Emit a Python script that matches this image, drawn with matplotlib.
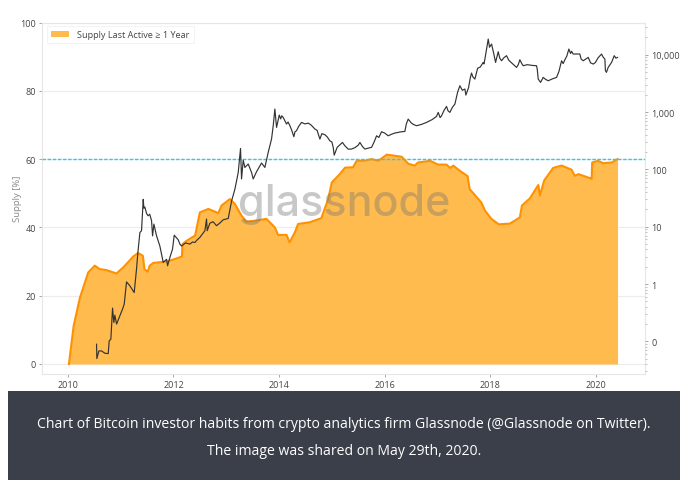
import matplotlib

matplotlib.use("Agg")
import matplotlib.pyplot as plt
from matplotlib.patches import Rectangle
from matplotlib.ticker import FixedLocator, FixedFormatter, NullFormatter

supply_years = [2010.02, 2010.11, 2010.23, 2010.385, 2010.51, 2010.6, 2010.73, 2010.92, 2011.05, 2011.14,
                2011.24, 2011.33, 2011.42, 2011.45, 2011.51, 2011.55, 2011.62, 2011.87, 2012.06, 2012.16,
                2012.17, 2012.25, 2012.41, 2012.5, 2012.66, 2012.85, 2012.91, 2013.07, 2013.16, 2013.29,
                2013.38, 2013.57, 2013.76, 2013.92, 2013.98, 2014.14, 2014.2, 2014.3, 2014.36, 2014.58,
                2014.8, 2014.93, 2015.0, 2015.15, 2015.25, 2015.4, 2015.47, 2015.62, 2015.75, 2015.88,
                2016.04, 2016.32, 2016.45, 2016.57, 2016.63, 2016.86, 2017.01, 2017.17, 2017.24, 2017.3,
                2017.42, 2017.57, 2017.61, 2017.83, 2017.9, 2018.02, 2018.16, 2018.37, 2018.56, 2018.6,
                2018.75, 2018.88, 2018.91, 2018.94, 2019.02, 2019.19, 2019.35, 2019.54, 2019.6, 2019.67,
                2019.89, 2019.92, 2019.93, 2020.04, 2020.14, 2020.3, 2020.41]
supply_pct = [0, 11.2, 19.5, 26.8, 28.8, 27.8, 27.5, 26.5, 28.3, 29.8,
              31.5, 32.5, 31.7, 27.8, 27, 28.8, 29.6, 30, 30.9, 31.5,
              35.1, 36.1, 37.6, 44.4, 45.4, 44.2, 46.4, 48.3, 46.9, 43.4,
              41.7, 42, 42.5, 40, 37.8, 37.8, 35.6, 38.6, 41, 41.5,
              42.7, 48.3, 53.2, 55.6, 57.5, 57.6, 59.5, 59.5, 60, 59.5,
              61.3, 60.7, 58.6, 58.1, 59, 59.5, 58.4, 58.4, 57.4, 58.1,
              56.6, 55, 51.2, 47.3, 44.9, 42.5, 40.9, 41.1, 42.9, 46.4,
              48.5, 51.7, 52.4, 49.3, 53.7, 57.4, 58.1, 56.9, 55.1, 55.6,
              54.4, 54.2, 59, 59.5, 58.8, 59, 60]

price_years = [2010.543, 2010.549, 2010.587, 2010.638, 2010.70, 2010.764, 2010.783, 2010.814, 2010.846, 2010.871,
               2010.89, 2010.922, 2010.972, 2011.035, 2011.067, 2011.111, 2011.174, 2011.256, 2011.30, 2011.326,
               2011.364, 2011.395, 2011.427, 2011.44, 2011.458, 2011.49, 2011.52, 2011.55, 2011.585, 2011.604,
               2011.629, 2011.68, 2011.742, 2011.806, 2011.869, 2011.888, 2011.932, 2011.982, 2012.014, 2012.09,
               2012.121, 2012.153, 2012.23, 2012.311, 2012.36, 2012.405, 2012.45, 2012.50, 2012.595, 2012.626,
               2012.639, 2012.689, 2012.75, 2012.816, 2012.88, 2012.942, 2013.037, 2013.10, 2013.163, 2013.226,
               2013.27, 2013.289, 2013.321, 2013.352, 2013.415, 2013.479, 2013.51, 2013.573, 2013.668, 2013.731,
               2013.794, 2013.857, 2013.889, 2013.92, 2013.952, 2014.003, 2014.03, 2014.05, 2014.078, 2014.11,
               2014.141, 2014.17, 2014.205, 2014.24, 2014.28, 2014.30, 2014.33, 2014.37, 2014.425, 2014.49,
               2014.552, 2014.61, 2014.678, 2014.72, 2014.773, 2014.81, 2014.867, 2014.91, 2014.962, 2015.0,
               2015.025, 2015.044, 2015.10, 2015.20, 2015.246, 2015.31, 2015.372, 2015.44, 2015.5, 2015.53,
               2015.58, 2015.625, 2015.69, 2015.751, 2015.8, 2015.846, 2015.89, 2015.94, 2016.0, 2016.067,
               2016.13, 2016.193, 2016.3, 2016.382, 2016.41, 2016.445, 2016.5, 2016.54, 2016.603, 2016.7,
               2016.793, 2016.9, 2016.982, 2017.014, 2017.05, 2017.077, 2017.12, 2017.171, 2017.2, 2017.235,
               2017.28, 2017.33, 2017.38, 2017.424, 2017.47, 2017.519, 2017.538, 2017.59, 2017.62, 2017.645,
               2017.67, 2017.708, 2017.76, 2017.81, 2017.866, 2017.88, 2017.898, 2017.961, 2017.985, 2018.024,
               2018.06, 2018.10, 2018.13, 2018.15, 2018.18, 2018.213, 2018.26, 2018.308, 2018.35, 2018.42,
               2018.497, 2018.53, 2018.56, 2018.6, 2018.624, 2018.7, 2018.8, 2018.876, 2018.89, 2018.908,
               2018.952, 2019.002, 2019.05, 2019.097, 2019.18, 2019.255, 2019.3, 2019.35, 2019.38, 2019.413,
               2019.45, 2019.488, 2019.52, 2019.54, 2019.57, 2019.63, 2019.696, 2019.72, 2019.76, 2019.8,
               2019.855, 2019.9, 2019.95, 2019.99, 2020.04, 2020.107, 2020.14, 2020.17, 2020.18, 2020.2,
               2020.233, 2020.297, 2020.347, 2020.38, 2020.41]
price_usd = [0.089, 0.050, 0.068, 0.068, 0.062, 0.061, 0.102, 0.109, 0.38, 0.213,
             0.286, 0.20, 0.26, 0.364, 0.445, 1.09, 0.93, 0.71, 1.82, 3.55,
             7.9, 8.5, 30, 21, 22, 17, 15.5, 16.5, 12.7, 6.9,
             11.1, 6.9, 4.6, 2.38, 2.7, 2.08, 2.9, 4.06, 7.1, 5.9,
             4.97, 4.6, 5.2, 4.97, 5.4, 5.3, 5.9, 6.5, 8.5, 13.6,
             8.5, 11.5, 12.2, 10.4, 11.6, 13.2, 13.9, 28, 45, 88,
             232, 68, 145, 108, 124, 88, 68, 91, 129, 108,
             198, 337, 577, 1127, 539, 885, 760, 860, 805, 700,
             617, 670, 577, 480, 371, 450, 472, 560, 659, 620,
             641, 590, 505, 480, 337, 420, 402, 370, 315, 300,
             242, 177, 242, 295, 258, 225, 226, 240, 265, 295,
             250, 226, 235, 242, 300, 385, 360, 453, 430, 385,
             410, 430, 450, 459, 620, 753, 650, 610, 577, 610,
             659, 740, 839, 986, 800, 861, 1050, 1253, 1050, 986,
             1200, 1377, 2200, 2877, 2400, 2517, 1977, 2700, 3900, 4786,
             4100, 3758, 5800, 6100, 7345, 6900, 8395, 18750, 13500, 15350,
             11000, 7345, 9500, 11280, 8700, 7850, 8900, 9610, 8000, 7000,
             6010, 6700, 8185, 6900, 6425, 6700, 6500, 6425, 5500, 3758,
             3290, 4020, 3700, 3516, 3800, 4020, 5100, 7850, 7000, 8185,
             9500, 12560, 10500, 11500, 10270, 10300, 10270, 8400, 7850, 8300,
             8980, 7200, 6870, 7300, 8800, 10270, 9000, 8395, 5300, 4920,
             6010, 7345, 9610, 8700, 8980]

x_ticks = [2010, 2012, 2014, 2016, 2018, 2020]
y_ticks = [0, 20, 40, 60, 80, 100]
price_ticks = [0.1, 1, 10, 100, 1000, 10000]
price_labels = ["0", "1", "10", "100", "1,000", "10,000"]
threshold = 60

W, H = 687, 485
fig = plt.figure(figsize=(W / 100, H / 100), dpi=100, facecolor="white")
plt.rcParams["font.family"] = ["Open Sans", "DejaVu Sans"]

# axes box in pixels: left 42, right 645, top 23.5, bottom 375
ax = fig.add_axes([42 / W, (H - 375) / H, 603 / W, 351.5 / H])
ax.set_xlim(2009.51, 2020.93)
ax.set_ylim(-2.93, 100)
ax.set_xticks(x_ticks)
ax.set_yticks(y_ticks)
ax.tick_params(axis="both", labelsize=6.5, length=2.5, width=0.6, color="#999999", labelcolor="#444444", pad=2)
ax.grid(axis="y", color="#ececec", linewidth=0.8)
ax.set_axisbelow(True)
for side in ["top", "right", "left", "bottom"]:
    ax.spines[side].set_color("#e6e6e6")
    ax.spines[side].set_linewidth(0.8)
ax.set_ylabel("Supply [%]", fontsize=6.8, color="#888888", labelpad=-1.5)

ax.fill_between(supply_years, supply_pct, 0, color="#ffbb4d", linewidth=0, label="Supply Last Active ≥ 1 Year", zorder=2)
ax.plot(supply_years, supply_pct, color="#ff9100", linewidth=1.5, zorder=3)
ax.axhline(threshold, color="#35c4f5", linestyle=(0, (2.5, 1.2)), linewidth=1.0, zorder=4)

legend = ax.legend(loc="upper left", fontsize=6.6, frameon=True, borderpad=0.45, handlelength=2.0,
                   handleheight=0.7, handletextpad=0.85, fancybox=False, edgecolor="#eeeeee",
                   bbox_to_anchor=(0.008, 0.99), borderaxespad=0)
legend.get_frame().set_linewidth(0.6)
for txt in legend.get_texts():
    txt.set_color("#444444")

ax2 = ax.twinx()
ax2.set_yscale("log")
ax2.set_ylim(10 ** -1.57, 10 ** 4.562)
ax2.yaxis.set_major_locator(FixedLocator(price_ticks))
ax2.yaxis.set_major_formatter(FixedFormatter(price_labels))
ax2.yaxis.set_minor_formatter(NullFormatter())
ax2.tick_params(axis="y", which="major", labelsize=6.5, length=2.5, width=0.6, color="#999999", labelcolor="#444444", pad=2)
ax2.tick_params(axis="y", which="minor", length=1.2, width=0.5, color="#aaaaaa")
for side in ["top", "right", "left", "bottom"]:
    ax2.spines[side].set_visible(False)
ax2.plot(price_years, price_usd, color="#333333", linewidth=0.85, zorder=5)

fig.text(344 / W, 1 - 216 / H, "glassnode", fontsize=31, family="Inter", fontweight="medium", color="#777777",
         alpha=0.4, ha="center", va="baseline", zorder=10)

# dark caption bar below the chart
fig.add_artist(Rectangle((8 / W, (H - 481) / H), 672 / W, 89 / H, transform=fig.transFigure,
                         facecolor="#3a3f4a", edgecolor="none"))
fig.text(344 / W, 1 - 425 / H, "Chart of Bitcoin investor habits from crypto analytics firm Glassnode (@Glassnode on Twitter).",
         fontsize=10.1, color="white", ha="center", va="center")
fig.text(344 / W, 1 - 452 / H, "The image was shared on May 29th, 2020.",
         fontsize=10.1, color="white", ha="center", va="center")

fig.savefig("out.png", dpi=100)
